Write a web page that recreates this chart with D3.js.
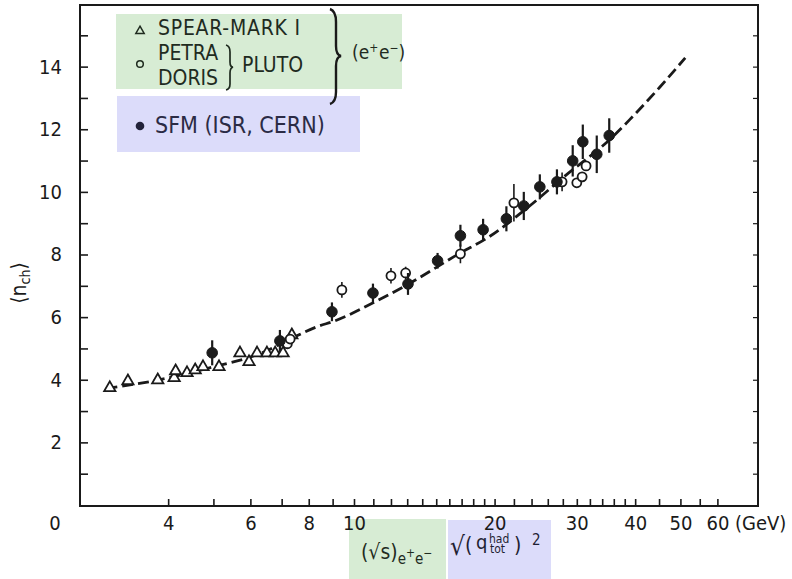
<!DOCTYPE html>
<html>
<head>
<meta charset="utf-8">
<script src="https://cdn.jsdelivr.net/npm/d3@7"></script>
<style>
  body { margin: 0; background: white; }
  svg text { font-family: "DejaVu Sans Condensed", "DejaVu Sans", sans-serif; }
</style>
</head>
<body>
<svg id="chart" width="792" height="579"></svg>
<script>
// SPEAR-MARK I (triangles)
const spearX = [3.00, 3.28, 3.80, 4.12, 4.15, 4.39, 4.57, 4.75, 5.14, 5.70, 5.96, 6.20, 6.51, 6.78, 7.05, 7.36];
const spearY = [3.74, 3.96, 3.99, 4.06, 4.28, 4.22, 4.31, 4.41, 4.41, 4.85, 4.57, 4.85, 4.85, 4.85, 4.85, 5.43];

// PETRA / DORIS (PLUTO), open circles
const openX = [7.2, 7.3, 9.42, 12.0, 12.9, 16.9, 22.0, 27.9, 30.0, 30.8, 31.4];
const openY = [5.15, 5.30, 6.87, 7.32, 7.41, 8.02, 9.65, 10.32, 10.29, 10.48, 10.83];
const openErr = [0.15, 0.15, 0.25, 0.25, 0.2, 0.3, 0.6, 0.3, 0, 0, 0];

// SFM (ISR, CERN), filled circles
const sfmX = [4.97, 6.94, 8.97, 10.98, 13.05, 15.1, 16.9, 18.9, 21.2, 23.1, 25.0, 27.2, 29.4, 30.9, 33.1, 35.2];
const sfmY = [4.86, 5.24, 6.17, 6.77, 7.06, 7.80, 8.60, 8.79, 9.14, 9.55, 10.16, 10.32, 10.99, 11.6, 11.2, 11.8];
const sfmErr = [0.4, 0.35, 0.3, 0.3, 0.35, 0.25, 0.35, 0.35, 0.4, 0.45, 0.4, 0.4, 0.5, 0.55, 0.6, 0.55];

// dashed fit curve
const curveX = [2.95, 3.8, 4.97, 6.35, 7.3, 8.33, 9.1, 11.1, 13.2, 16.9, 19.3, 23.5, 28.0, 35.8, 38.9, 45.2, 51.2];
const curveY = [3.72, 3.99, 4.40, 4.86, 5.30, 5.69, 5.88, 6.49, 7.09, 8.05, 8.53, 9.49, 10.45, 11.76, 12.3, 13.35, 14.28];

// axis ticks
const xTicks = [4, 5, 6, 7, 8, 9, 10, 11, 12, 13, 14, 15, 16, 17, 18, 19, 20,
                22, 24, 26, 28, 30, 32, 34, 36, 38, 40, 45, 50, 55, 60];
const xLabels = [4, 6, 8, 10, 20, 30, 40, 50, 60];
const yTicks = [1, 2, 3, 4, 5, 6, 7, 8, 9, 10, 11, 12, 13, 14, 15];
const yLabels = [2, 4, 6, 8, 10, 12, 14];

const svg = d3.select("svg#chart");
const ink = "#1a1a1a";

const x = d3.scaleLog().domain([2.59, 73.3]).range([80, 758]);
const y = d3.scaleLinear().domain([0, 16]).range([505, 4]);

// legend boxes (behind everything)
svg.append("rect").attr("x", 116).attr("y", 14).attr("width", 286).attr("height", 75).attr("fill", "#d7ecd4");
svg.append("rect").attr("x", 117).attr("y", 96).attr("width", 243).attr("height", 56).attr("fill", "#dcdcfa");
svg.append("rect").attr("x", 349).attr("y", 519).attr("width", 97).attr("height", 60).attr("fill", "#d7ecd4");
svg.append("rect").attr("x", 448).attr("y", 520).attr("width", 103).attr("height", 59).attr("fill", "#dcdcfa");

// frame
svg.append("path")
    .attr("d", `M80,5 L758,5 L758,506 L80,506 Z`)
    .attr("fill", "none").attr("stroke", ink).attr("stroke-width", 2);

// x axis
const xAxis = svg.append("g").attr("transform", "translate(0,506)")
    .call(d3.axisBottom(x).tickValues(xTicks).tickSizeInner(-7).tickSizeOuter(0).tickPadding(10)
        .tickFormat(d => xLabels.includes(d) ? d : ""));
xAxis.select(".domain").remove();
xAxis.selectAll("line").attr("stroke", ink).attr("stroke-width", 1.6);
xAxis.selectAll("text").attr("font-size", 20).attr("fill", ink)
    .attr("font-family", "DejaVu Sans Condensed");

// y axis
const yAxis = svg.append("g").attr("transform", "translate(80,0)")
    .call(d3.axisLeft(y).tickValues(yTicks).tickSizeInner(-8).tickSizeOuter(0).tickPadding(18)
        .tickFormat(d => yLabels.includes(d) ? d : ""));
yAxis.select(".domain").remove();
yAxis.selectAll("line").attr("stroke", ink).attr("stroke-width", 1.6);
yAxis.selectAll("text").attr("font-size", 20).attr("fill", ink)
    .attr("font-family", "DejaVu Sans Condensed");

// right side small ticks
const rAxis = svg.append("g").attr("transform", "translate(758,0)")
    .call(d3.axisRight(y).tickValues(yTicks).tickSizeInner(-5).tickSizeOuter(0).tickFormat(""));
rAxis.select(".domain").remove();
rAxis.selectAll("line").attr("stroke", ink).attr("stroke-width", 1.2);

// origin label and units
svg.append("text").attr("x", 55).attr("y", 530).attr("text-anchor", "middle")
    .attr("font-size", 20).attr("fill", ink).text("0");
svg.append("text").attr("x", 735).attr("y", 530)
    .attr("font-size", 20).attr("fill", ink).text("(GeV)");

// y label
const yl = svg.append("text").attr("transform", "translate(26,283) rotate(-90)")
    .attr("text-anchor", "middle").attr("font-size", 21).attr("fill", ink);
yl.append("tspan").text("\u27E8n");
yl.append("tspan").attr("font-size", 14).attr("dy", 4).text("ch");
yl.append("tspan").attr("dy", -4).text("\u27E9");

// x axis labels
const xl1 = svg.append("text").attr("x", 361).attr("y", 559).attr("font-size", 21).attr("fill", "#1f2b1f");
xl1.append("tspan").text("(\u221As)");
xl1.append("tspan").attr("font-size", 15).attr("dy", 5).text("e");
xl1.append("tspan").attr("font-size", 12).attr("dy", -7).text("+");
xl1.append("tspan").attr("font-size", 15).attr("dy", 7).text("e");
xl1.append("tspan").attr("font-size", 12).attr("dy", -7).text("\u2212");

const xl2 = svg.append("g").attr("fill", "#1f1f33");
xl2.append("text").attr("x", 450).attr("y", 555).attr("font-size", 26).text("\u221A");
xl2.append("text").attr("x", 465).attr("y", 552).attr("font-size", 21).text("(");
xl2.append("text").attr("x", 476).attr("y", 549).attr("font-size", 20).text("q");
xl2.append("text").attr("x", 489).attr("y", 543).attr("font-size", 12).text("had");
xl2.append("text").attr("x", 490).attr("y", 553).attr("font-size", 12).text("tot");
xl2.append("text").attr("x", 514).attr("y", 552).attr("font-size", 21).text(")");
xl2.append("text").attr("x", 532).attr("y", 545).attr("font-size", 15).text("2");

// dashed curve
const curvePts = curveX.map((d, i) => [d, curveY[i]]);
svg.append("path").datum(curvePts)
    .attr("d", d3.line().x(d => x(d[0])).y(d => y(d[1])).curve(d3.curveMonotoneX))
    .attr("fill", "none").attr("stroke", ink).attr("stroke-width", 2.8)
    .attr("stroke-dasharray", "11,5");

// triangles
const tri = d3.symbol().type(d3.symbolTriangle).size(55);
svg.append("g").selectAll("path").data(spearX).join("path")
    .attr("transform", (d, i) => `translate(${x(d)},${y(spearY[i])})`)
    .attr("d", tri).attr("fill", "white").attr("stroke", ink).attr("stroke-width", 1.8);

// open circles with error bars
const openG = svg.append("g");
openG.selectAll("line").data(openX).join("line")
    .attr("x1", d => x(d)).attr("x2", d => x(d))
    .attr("y1", (d, i) => y(openY[i] + openErr[i])).attr("y2", (d, i) => y(openY[i] - openErr[i]))
    .attr("stroke", ink).attr("stroke-width", 1.6);
openG.selectAll("circle").data(openX).join("circle")
    .attr("cx", d => x(d)).attr("cy", (d, i) => y(openY[i])).attr("r", 4.5)
    .attr("fill", "white").attr("stroke", ink).attr("stroke-width", 1.8);

// SFM filled circles with error bars
const sfmG = svg.append("g");
sfmG.selectAll("line").data(sfmX).join("line")
    .attr("x1", d => x(d)).attr("x2", d => x(d))
    .attr("y1", (d, i) => y(sfmY[i] + sfmErr[i])).attr("y2", (d, i) => y(sfmY[i] - sfmErr[i]))
    .attr("stroke", ink).attr("stroke-width", 2.2);
sfmG.selectAll("circle").data(sfmX).join("circle")
    .attr("cx", d => x(d)).attr("cy", (d, i) => y(sfmY[i])).attr("r", 5.3)
    .attr("fill", "#1c1c1c").attr("stroke", ink).attr("stroke-width", 1);

// legend
const lg = svg.append("g").attr("fill", "#1f2b1f");
lg.append("path").attr("d", d3.symbol().type(d3.symbolTriangle).size(30)).attr("transform", "translate(140,31)")
    .attr("fill", "none").attr("stroke", "#1f2b1f").attr("stroke-width", 1.5);
lg.append("circle").attr("cx", 140).attr("cy", 64).attr("r", 3.3)
    .attr("fill", "none").attr("stroke", "#1f2b1f").attr("stroke-width", 1.5);
lg.append("text").attr("x", 158).attr("y", 35).attr("font-size", 21).attr("textLength", 142).text("SPEAR-MARK I");
lg.append("text").attr("x", 158).attr("y", 60).attr("font-size", 21).text("PETRA");
lg.append("text").attr("x", 158).attr("y", 85).attr("font-size", 21).text("DORIS");
lg.append("text").attr("x", 242).attr("y", 72).attr("font-size", 21).text("PLUTO");
lg.append("text").attr("x", 352).attr("y", 59).attr("font-size", 19).text("(e")
    .append("tspan").attr("font-size", 12).attr("dy", -7).text("+");
lg.append("text").attr("x", 379).attr("y", 59).attr("font-size", 19).text("e")
    .append("tspan").attr("font-size", 12).attr("dy", -7).text("\u2212")
    .append("tspan").attr("font-size", 19).attr("dy", 7).text(")");
lg.append("path")
    .attr("d", "M226,45 Q230,46 230,52 L230,62 Q230,67 233,67 Q230,68 230,73 L230,84 Q230,89 226,90")
    .attr("fill", "none").attr("stroke", "#1f2b1f").attr("stroke-width", 1.7);
lg.append("path")
    .attr("d", "M330,9 Q336,11 336,22 L336,46 Q336,55 341,56 Q336,57 336,66 L336,92 Q336,102 330,104")
    .attr("fill", "none").attr("stroke", "#1a1a1a").attr("stroke-width", 2.4);

svg.append("circle").attr("cx", 140).attr("cy", 126).attr("r", 4.3).attr("fill", "#23233a");
svg.append("text").attr("x", 155).attr("y", 133).attr("font-size", 23).attr("font-weight", 500)
    .attr("font-family", "Roboto").attr("fill", "#2b2b45").text("SFM (ISR, CERN)");
</script>
</body>
</html>
